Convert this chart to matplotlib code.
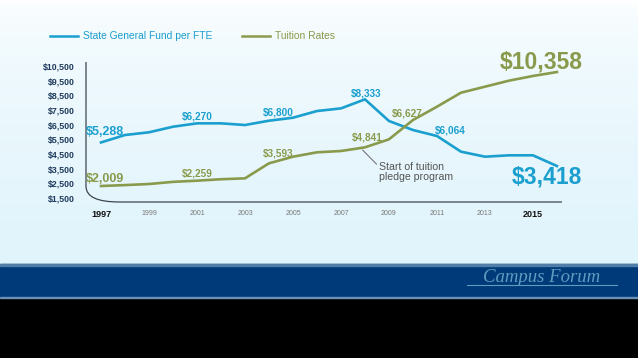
import numpy as np
import matplotlib
matplotlib.use('Agg')
import matplotlib.pyplot as plt
from matplotlib.patches import Rectangle
from matplotlib.path import Path
from matplotlib.patches import PathPatch

# Datos
years = list(range(1997, 2017))
state_fund = [5288, 5795, 5980, 6360, 6590, 6590, 6476, 6770, 6975, 7430,
              7610, 8228, 6750, 6135, 5726, 4660, 4316, 4410, 4410, 3680]
tuition = [2318, 2380, 2454, 2600, 2680, 2780, 2840, 3865, 4316, 4615,
           4704, 4955, 5500, 6817, 7725, 8680, 9090, 9500, 9820, 10090]

y_ticks = list(range(1500, 11500, 1000))
x_ticks = list(range(1997, 2017, 2))

# etiquetas: (texto, año, valor, tamaño)
blue_labels = [('$5,288', 1997.17, 6020, 9), ('$6,270', 2001.0, 7043, 7.2),
               ('$6,800', 2004.4, 7316, 7.2), ('$8,333', 2008.05, 8638, 7.2),
               ('$6,064', 2011.55, 6136, 7.2), ('$3,418', 2015.57, 2952, 16.5)]
green_labels = [('$2,009', 1997.17, 2775, 9), ('$2,259', 2001.0, 3184, 7.2),
                ('$3,593', 2004.4, 4548, 7.2), ('$4,841', 2008.1, 5591, 7.2),
                ('$6,627', 2009.75, 7275, 7.2), ('$10,358', 2015.36, 10793, 16.5)]

BLUE = '#1a9fcf'
GREEN = '#8a9a4c'
NAVY = '#1f3a5c'

plt.rcParams['font.family'] = ['Liberation Sans', 'DejaVu Sans']

fig = plt.figure(figsize=(6.38, 3.58), dpi=100)

# fondo degradado
bg = fig.add_axes([0, 0, 1, 1], zorder=-10)
grad = np.linspace(0, 1, 256).reshape(-1, 1)
top = np.array([1.0, 1.0, 1.0])
bot = np.array([0.86, 0.95, 0.985])
img = top + (bot - top) * np.sqrt(grad)
bg.imshow(img.reshape(256, 1, 3), aspect='auto', extent=[0, 1, 0, 1])
bg.set_xlim(0, 1)
bg.set_ylim(0, 1)
bg.axis('off')

# banda inferior
fig.patches.append(Rectangle((0, 0), 1, 1 - 297 / 358, transform=fig.transFigure,
                             color='black', zorder=-5))
fig.patches.append(Rectangle((0, 1 - 297 / 358), 1, 33 / 358, transform=fig.transFigure,
                             color='#003a78', zorder=-5))
fig.patches.append(Rectangle((0, 1 - 265.5 / 358), 1, 1.2 / 358, transform=fig.transFigure,
                             color='#4f7fa8', zorder=-4))
fig.patches.append(Rectangle((0, 1 - 298 / 358), 1, 1.2 / 358, transform=fig.transFigure,
                             color='#6a8fb8', zorder=-4))
fig.text(542 / 638, 1 - 278 / 358, 'Campus Forum', family='Liberation Serif', style='italic',
         fontsize=13.5, color='#5e9cc0', ha='center', va='center')
fig.add_artist(plt.Line2D([467 / 638, 617 / 638], [1 - 285 / 358, 1 - 285 / 358],
                          color='#5e9cc0', lw=0.8, transform=fig.transFigure))

ax = fig.add_axes([86 / 638, 1 - 202 / 358, 476 / 638, 140 / 358])
ax.patch.set_alpha(0)
ax.plot(years, state_fund, color=BLUE, lw=1.9, solid_joinstyle='round')
ax.plot(years, tuition, color=GREEN, lw=1.9, solid_joinstyle='round')
ax.set_xlim(1996.375, 2016.21)
ax.set_ylim(1227, 10773)

for s in ax.spines.values():
    s.set_visible(False)

# eje con esquina redondeada
r = 0.07
verts = [(0, 1), (0, r * 1.6), (0, 0), (r, 0), (1, 0)]
codes = [Path.MOVETO, Path.LINETO, Path.CURVE3, Path.CURVE3, Path.LINETO]
ax.add_patch(PathPatch(Path(verts, codes), transform=ax.transAxes, fill=False,
                       edgecolor='#3c4650', lw=0.9, clip_on=False))

ax.set_yticks(y_ticks)
ax.set_yticklabels(['${:,}'.format(v) for v in y_ticks], fontsize=6.3,
                   fontweight='bold', color=NAVY)
ax.set_xticks(x_ticks)
ax.set_xticklabels([str(x) for x in x_ticks], fontsize=5.0, color='#777777')
for lbl in ax.get_xticklabels():
    if lbl.get_text() in ('1997', '2015'):
        lbl.set_fontsize(6.5)
        lbl.set_fontweight('bold')
        lbl.set_color('#111111')
ax.tick_params(axis='both', length=0)
ax.tick_params(axis='y', pad=8)
ax.tick_params(axis='x', pad=6)

for txt, x, y, fs in blue_labels:
    ax.text(x, y, txt, color=BLUE, fontsize=fs, fontweight='bold',
            ha='center', va='center', clip_on=False)
for txt, x, y, fs in green_labels:
    ax.text(x, y, txt, color=GREEN, fontsize=fs, fontweight='bold',
            ha='center', va='center', clip_on=False)

ax.annotate('Start of tuition\npledge program', xy=(2007.9, 4773), xytext=(2008.6, 3270),
            fontsize=7.6, color='#555555', ha='left', va='center', linespacing=1.0,
            arrowprops=dict(arrowstyle='-', color='#666666', lw=0.7,
                            shrinkA=0, shrinkB=0, relpos=(0, 0.75)))

# leyenda
fig.add_artist(plt.Line2D([50 / 638, 78 / 638], [1 - 36 / 358] * 2, color=BLUE, lw=1.8,
                          transform=fig.transFigure))
fig.text(83 / 638, 1 - 36 / 358, 'State General Fund per FTE', fontsize=7.4, color=BLUE,
         va='center')
fig.add_artist(plt.Line2D([242 / 638, 270 / 638], [1 - 36 / 358] * 2, color=GREEN, lw=1.8,
                          transform=fig.transFigure))
fig.text(275 / 638, 1 - 36 / 358, 'Tuition Rates', fontsize=7.4, color=GREEN, va='center')

fig.savefig('out.png', dpi=100)
